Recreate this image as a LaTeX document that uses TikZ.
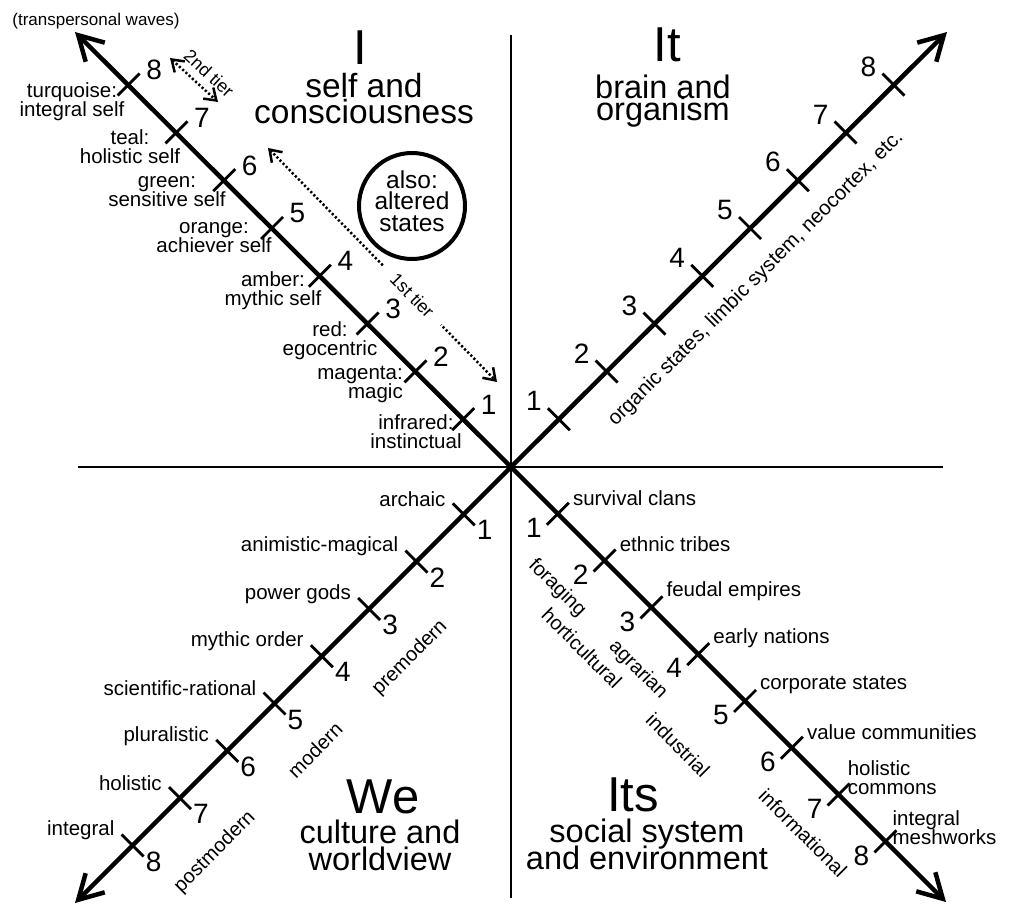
\documentclass[tikz,border=0pt]{standalone}
\usepackage{fontspec}
\setmainfont{Liberation Sans}
\usetikzlibrary{arrows.meta,calc}
\newcommand\tightlines{\lineskiplimit=-100pt\relax}

\begin{document}
\begin{tikzpicture}[x=1pt, y=-1pt,
      divider/.style={line width=2.8pt},
      wave/.style={line width=4.5pt, -{Straight Barb[length=24pt, width=27pt, line width=4.5pt]}},
      tickmark/.style={line width=2.8pt},
      levelnum/.style={inner sep=0pt, font=\fontsize{28}{28}\selectfont},
      stagelbl/.style={inner sep=0pt, align=center, font=\fontsize{20.5}{19}\selectfont\tightlines},
      era/.style={inner sep=0pt, font=\fontsize{20}{20}\selectfont},
      quadrant/.style={inner sep=0pt, font=\fontsize{49}{49}\selectfont},
      subtitle/.style={inner sep=0pt, align=center, font=\fontsize{32.5}{27}\selectfont\tightlines},
      tier/.style={line width=2.5pt, dash pattern=on 2.2pt off 2.2pt,
                   {Straight Barb[length=11pt, width=15pt, line width=2.5pt]}-{Straight Barb[length=11pt, width=15pt, line width=2.5pt]}},
      tierlbl/.style={font=\fontsize{18}{18}\selectfont}]
    \useasboundingbox (0,0) rectangle (1009,904);

    % centre, dividers and the four arrows
    \coordinate (O) at (511,467);
    \coordinate (v-top) at (511,35);
    \coordinate (v-bot) at (511,898);
    \coordinate (h-left) at (78,467);
    \coordinate (h-right) at (943,467);
    \coordinate (tip-nw) at (75,32);
    \coordinate (tip-ne) at (947,32);
    \coordinate (tip-sw) at (75,903);
    \coordinate (tip-se) at (946,902);
    \draw[divider] (v-top) -- (v-bot);
    \draw[divider] (h-left) -- (h-right);
    \draw[wave] (O) -- (tip-nw);
    \draw[wave] (O) -- (tip-ne);
    \draw[wave] (O) -- (tip-sw);
    \draw[wave] (O) -- (tip-se);

    % ticks and level numbers
    \foreach \k in {1,...,8} {
      \coordinate (ul-\k) at ($(O)+(-47.8*\k,-47.8*\k)$);
      \coordinate (ur-\k) at ($(O)+(47.8*\k,-47.8*\k)$);
      \coordinate (sw-\k) at ($(O)+(-47.3*\k,47.3*\k)$);
      \coordinate (se-\k) at ($(O)+(46.8*\k,46.8*\k)$);
      \draw[tickmark] ($(ul-\k)+(-11,11)$) -- ($(ul-\k)+(11,-11)$);
      \draw[tickmark] ($(ur-\k)+(-11,-11)$) -- ($(ur-\k)+(11,11)$);
      \draw[tickmark] ($(sw-\k)+(-11,-11)$) -- ($(sw-\k)+(11,11)$);
      \draw[tickmark] ($(se-\k)+(-11,11)$) -- ($(se-\k)+(11,-11)$);
      \node[levelnum] (ul-num-\k) at ($(ul-\k)+(25.5,-14.5)$) {\k};
      \node[levelnum] (ur-num-\k) at ($(ur-\k)+(-25,-18)$) {\k};
      \node[levelnum] (sw-num-\k) at ($(sw-\k)+(21,16)$) {\k};
      \node[levelnum] (se-num-\k) at ($(se-\k)+(-24,14)$) {\k};
    }

    % I: self and consciousness
    \node[quadrant] (I) at (360,48) {I};
    \node[subtitle, font=\fontsize{33.5}{26}\selectfont\tightlines] (I-sub) at (364,99) {self and\\consciousness};
    \node[inner sep=0pt, font=\fontsize{17}{17}\selectfont] (transp) at (96,21) {(transpersonal waves)};
    \node[stagelbl] (ul-lbl-8) at (72,102) {turquoise:\\integral self};
    \node[stagelbl] (ul-lbl-7) at (130,147) {teal:\\holistic self};
    \node[stagelbl] (ul-lbl-6) at (167,192) {green:\\sensitive self};
    \node[stagelbl] (ul-lbl-5) at (214,238) {orange:\\achiever self};
    \node[stagelbl] (ul-lbl-4) at (273,291) {amber:\\mythic self};
    \node[stagelbl] (ul-lbl-3) at (330,341) {red:\\egocentric};
    \node[stagelbl, align=right, anchor=east] (ul-lbl-2) at (403,384) {magenta:\\magic};
    \node[stagelbl] (ul-lbl-1) at (416,432) {infrared:\\instinctual};
    \coordinate (t1-a) at (268,148);
    \coordinate (t1-b) at (497,382);
    \draw[tier] (t1-a) -- node[tierlbl, sloped, fill=white, inner xsep=14pt, pos=0.63] (tier1) {1st tier} (t1-b);
    \coordinate (t2-a) at (170,58);
    \coordinate (t2-b) at (218,102);
    \draw[tier] (t2-a) -- node[tierlbl, sloped, above=4pt, pos=0.6] (tier2) {2nd tier} (t2-b);
    \node[draw, circle, line width=4pt, minimum size=106pt, inner sep=0pt] (altered-ring) at (412,206) {};
    \node[inner sep=0pt, align=center, font=\fontsize{24.5}{21.5}\selectfont] (altered) at (412,201) {also:\\altered\\states};

    % It: brain and organism
    \node[quadrant] (It) at (667,45) {It};
    \node[subtitle, font=\fontsize{32.5}{22}\selectfont\tightlines] (It-sub) at (663,101) {brain and\\organism};
    \node[era, font=\fontsize{20.5}{20.5}\selectfont, rotate=45] (organic) at (756,279) {organic states, limbic system, neocortex, etc.};

    % We: culture and worldview
    \node[quadrant] (We) at (383,797) {We};
    \node[subtitle] (We-sub) at (380,845) {culture and\\worldview};
    \foreach \k/\txt in {1/archaic, 2/animistic-magical, 3/power gods, 4/mythic order,
                         5/scientific-rational, 6/pluralistic, 7/holistic, 8/integral}
      \node[stagelbl, anchor=east] (sw-lbl-\k) at ($(sw-\k)+(-18,-15)$) {\txt};
    \node[era, rotate=45] (premodern) at (410,658) {premodern};
    \node[era, rotate=45] (modern) at (315,750) {modern};
    \node[era, rotate=45] (postmodern) at (215,852) {postmodern};

    % Its: social system and environment
    \node[quadrant] (Its) at (633,795) {Its};
    \node[subtitle] (Its-sub) at (647,844) {social system\\and environment};
    \foreach \k/\txt in {1/survival clans, 2/ethnic tribes, 3/feudal empires, 4/early nations,
                         5/corporate states, 6/value communities}
      \node[stagelbl, anchor=west] (se-lbl-\k) at ($(se-\k)+(15,-16)$) {\txt};
    \node[stagelbl, align=left, anchor=west] (se-lbl-7) at ($(se-7)+(9,-17)$) {holistic\\commons};
    \node[stagelbl, align=left, anchor=west] (se-lbl-8) at ($(se-8)+(7,-14)$) {integral\\meshworks};
    \node[era, rotate=-45] (foraging) at (557,588) {foraging};
    \node[era, rotate=-45] (horticultural) at (582,648) {horticultural};
    \node[era, rotate=-45] (agrarian) at (638,670) {agrarian};
    \node[era, rotate=-45] (industrial) at (678,745) {industrial};
    \node[era, rotate=-45] (informational) at (803,833) {informational};
\end{tikzpicture}
\end{document}
